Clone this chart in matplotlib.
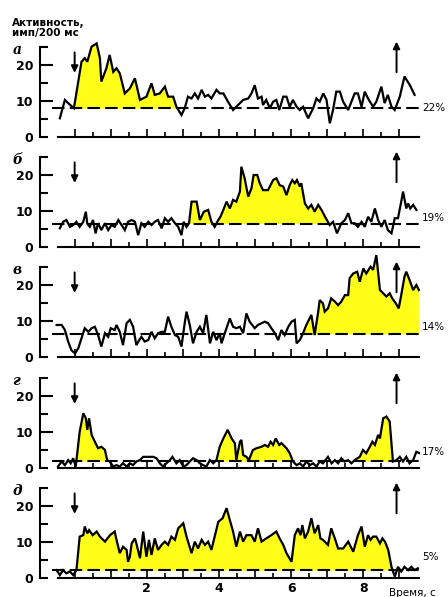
import numpy as np
import matplotlib
matplotlib.use('Agg')
import matplotlib.pyplot as plt

# ----------------------------------
# Data (time in s, activity in imp/200 ms)
# ----------------------------------

t_a = [-0.41, -0.27, -0.18, -0.02, 0.19, 0.28, 0.35, 0.47, 0.61, 0.70, 0.74, 0.88, 0.97, 1.07, 1.16, 1.25,
       1.39, 1.53, 1.67, 1.81, 1.99, 2.13, 2.22, 2.36, 2.50, 2.59, 2.73, 2.82, 2.96, 3.05, 3.14, 3.24,
       3.33, 3.42, 3.52, 3.61, 3.70, 3.79, 3.93, 4.02, 4.12, 4.25, 4.39, 4.53, 4.67, 4.81, 4.90, 4.99,
       5.08, 5.18, 5.22, 5.31, 5.41, 5.50, 5.59, 5.67, 5.78, 5.87, 5.96, 6.05, 6.15, 6.24, 6.33, 6.47,
       6.61, 6.70, 6.79, 6.89, 6.98, 7.07, 7.16, 7.25, 7.35, 7.44, 7.58, 7.67, 7.76, 7.85, 7.95, 8.04,
       8.13, 8.27, 8.36, 8.50, 8.59, 8.68, 8.78, 8.87, 9.01, 9.14, 9.29, 9.42]
v_a = [5.2, 10.3, 9.4, 8.0, 20.9, 21.9, 20.9, 25.1, 26.0, 21.9, 15.4, 19.1, 22.8, 18.1, 19.1, 17.7,
       12.1, 13.5, 16.3, 10.3, 11.2, 14.9, 11.7, 12.1, 14.0, 11.2, 11.2, 8.4, 6.1, 8.0, 11.2, 10.7,
       12.1, 10.7, 13.1, 11.2, 11.7, 10.7, 13.1, 12.1, 12.1, 9.8, 7.5, 8.9, 10.3, 10.7, 12.1, 14.4,
       10.7, 11.2, 8.9, 10.3, 8.0, 9.8, 10.3, 7.5, 11.2, 11.2, 8.4, 10.3, 8.4, 7.5, 8.4, 5.2,
       8.0, 10.7, 9.8, 12.1, 10.3, 3.8, 7.5, 12.6, 12.6, 9.8, 7.5, 9.8, 12.1, 12.1, 8.4, 12.6,
       10.7, 8.4, 9.8, 14.0, 9.4, 11.7, 8.4, 7.5, 11.2, 16.8, 14.4, 11.7]

t_b = [-0.41, -0.32, -0.23, -0.13, -0.04, 0.05, 0.14, 0.24, 0.31, 0.35, 0.42, 0.51, 0.58, 0.65, 0.74, 0.84,
       0.93, 1.02, 1.11, 1.21, 1.30, 1.39, 1.48, 1.58, 1.67, 1.76, 1.85, 1.94, 2.04, 2.13, 2.22, 2.31,
       2.41, 2.50, 2.59, 2.68, 2.78, 2.87, 2.96, 3.02, 3.10, 3.17, 3.24, 3.38, 3.47, 3.58, 3.70, 3.79,
       3.88, 3.98, 4.04, 4.12, 4.21, 4.30, 4.39, 4.48, 4.58, 4.62, 4.71, 4.81, 4.90, 4.96, 5.06, 5.13,
       5.22, 5.36, 5.50, 5.59, 5.68, 5.78, 5.87, 5.96, 6.03, 6.10, 6.16, 6.24, 6.28, 6.38, 6.47, 6.56,
       6.65, 6.75, 6.84, 6.96, 7.07, 7.16, 7.27, 7.39, 7.49, 7.58, 7.67, 7.76, 7.85, 7.95, 8.04, 8.13,
       8.22, 8.32, 8.41, 8.50, 8.59, 8.68, 8.78, 8.87, 8.96, 9.05, 9.10, 9.19, 9.24, 9.30, 9.38, 9.47]
v_b = [5.2, 7.0, 7.5, 5.6, 6.1, 7.0, 5.6, 7.0, 9.8, 6.5, 5.6, 7.5, 3.8, 6.6, 4.7, 6.6,
       4.7, 6.1, 5.6, 7.5, 6.1, 4.7, 7.0, 7.5, 7.0, 3.3, 6.6, 5.6, 7.0, 6.1, 7.0, 7.5,
       5.2, 8.0, 7.0, 8.0, 6.6, 5.6, 3.3, 7.0, 5.6, 6.6, 12.6, 12.6, 7.5, 9.8, 10.3, 7.0,
       5.6, 7.5, 8.4, 10.3, 12.6, 10.7, 13.1, 12.6, 15.4, 22.3, 19.1, 14.0, 16.3, 20.0, 20.0, 17.7,
       15.8, 15.8, 18.6, 19.1, 17.2, 16.8, 14.4, 17.2, 18.6, 17.7, 18.6, 16.8, 17.7, 12.1, 10.7, 11.7,
       9.8, 11.7, 10.3, 8.0, 6.1, 7.0, 3.8, 6.6, 7.5, 9.4, 6.6, 6.6, 5.6, 7.0, 5.6, 8.4,
       7.0, 10.7, 7.5, 5.6, 7.5, 4.7, 3.8, 8.0, 8.0, 12.6, 15.4, 10.7, 12.1, 10.7, 11.7, 10.3]

t_c = [-0.50, -0.36, -0.27, -0.18, -0.09, 0.01, 0.10, 0.19, 0.28, 0.38, 0.47, 0.56, 0.65, 0.74, 0.84, 0.93,
       1.00, 1.11, 1.16, 1.25, 1.34, 1.44, 1.53, 1.62, 1.71, 1.79, 1.85, 1.94, 2.04, 2.13, 2.22, 2.31,
       2.41, 2.50, 2.59, 2.68, 2.78, 2.87, 2.96, 3.05, 3.10, 3.19, 3.28, 3.38, 3.47, 3.56, 3.65, 3.75,
       3.84, 3.93, 4.02, 4.07, 4.16, 4.30, 4.39, 4.48, 4.58, 4.67, 4.76, 4.85, 4.99, 5.08, 5.18, 5.27,
       5.36, 5.45, 5.55, 5.64, 5.73, 5.82, 5.92, 6.01, 6.10, 6.15, 6.24, 6.33, 6.42, 6.56, 6.65, 6.75,
       6.79, 6.88, 6.93, 7.02, 7.11, 7.21, 7.30, 7.39, 7.49, 7.58, 7.62, 7.72, 7.83, 7.90, 8.00, 8.08,
       8.20, 8.27, 8.36, 8.46, 8.55, 8.64, 8.73, 8.80, 8.90, 8.98, 9.05, 9.14, 9.19, 9.28, 9.38, 9.47, 9.54]
v_c = [8.9, 8.9, 7.5, 4.3, 1.9, 1.0, 2.4, 5.2, 8.0, 7.0, 8.0, 8.4, 6.1, 2.9, 6.6, 5.6,
       8.0, 7.5, 8.9, 7.0, 3.3, 9.4, 10.3, 8.4, 3.3, 4.7, 5.6, 4.3, 4.7, 7.0, 5.2, 6.6,
       7.0, 7.0, 11.2, 8.4, 6.1, 5.6, 2.9, 9.4, 12.6, 8.9, 3.8, 7.0, 8.4, 6.6, 11.7, 3.8,
       7.0, 4.7, 6.6, 3.8, 6.6, 10.7, 8.4, 8.0, 8.4, 6.6, 12.1, 9.8, 8.0, 8.9, 9.4, 9.8,
       9.4, 8.0, 6.6, 4.7, 7.5, 6.1, 8.4, 9.8, 10.3, 3.8, 4.7, 6.6, 8.9, 11.7, 6.1, 12.6,
       15.8, 14.9, 12.6, 13.5, 16.3, 15.4, 14.4, 15.4, 17.2, 17.2, 21.9, 23.2, 23.7, 20.9, 24.6, 23.2,
       25.1, 24.2, 28.3, 18.6, 17.7, 16.8, 17.7, 16.3, 14.9, 13.5, 17.2, 22.3, 23.7, 21.4, 18.6, 20.0, 18.6]

t_d = [-0.46, -0.36, -0.27, -0.18, -0.11, -0.04, 0.03, 0.14, 0.24, 0.31, 0.35, 0.40, 0.47, 0.56, 0.65, 0.74,
       0.84, 0.90, 0.97, 1.07, 1.16, 1.25, 1.34, 1.44, 1.53, 1.62, 1.71, 1.81, 1.90, 2.04, 2.18, 2.27,
       2.36, 2.45, 2.54, 2.64, 2.71, 2.82, 2.91, 3.01, 3.10, 3.19, 3.28, 3.38, 3.47, 3.56, 3.65, 3.75,
       3.84, 3.93, 4.02, 4.12, 4.24, 4.35, 4.44, 4.48, 4.58, 4.62, 4.67, 4.76, 4.83, 4.94, 5.04, 5.18,
       5.27, 5.36, 5.43, 5.50, 5.57, 5.67, 5.73, 5.87, 5.96, 6.05, 6.15, 6.24, 6.33, 6.42, 6.52, 6.61,
       6.70, 6.79, 6.88, 7.02, 7.12, 7.21, 7.30, 7.39, 7.48, 7.58, 7.67, 7.76, 7.90, 7.99, 8.08, 8.18,
       8.25, 8.32, 8.41, 8.46, 8.55, 8.64, 8.73, 8.82, 8.92, 9.01, 9.10, 9.19, 9.28, 9.38, 9.47, 9.56]
v_d = [0.4, 1.8, 0.8, 2.2, 1.3, 2.7, 0.4, 10.1, 15.2, 13.8, 10.6, 13.8, 9.2, 7.3, 5.5, 5.9,
       5.0, 2.2, 1.8, 0.4, 0.8, 0.4, 1.3, 0.4, 1.3, 0.8, 1.8, 2.2, 3.1, 3.1, 3.1, 2.7,
       1.3, 0.4, 1.3, 2.2, 3.1, 1.3, 2.2, 0.4, 0.8, 1.8, 2.7, 2.2, 1.3, 0.8, 0.4, 2.2,
       1.3, 2.2, 5.9, 8.2, 10.6, 8.2, 6.9, 2.2, 7.3, 7.8, 3.6, 3.1, 2.2, 5.0, 5.5, 5.9,
       6.4, 5.9, 7.3, 6.4, 8.2, 6.4, 6.9, 5.5, 4.1, 1.8, 0.8, 1.3, 0.4, 1.8, 0.8, 1.3,
       0.4, 1.8, 1.3, 3.1, 1.3, 2.2, 1.3, 2.7, 1.8, 2.2, 1.3, 2.2, 3.1, 5.0, 4.1, 5.9,
       7.3, 6.4, 9.2, 8.2, 13.8, 14.3, 12.9, 1.8, 2.2, 3.1, 1.8, 3.1, 1.3, 2.2, 4.5, 4.1]

t_e = [-0.50, -0.41, -0.32, -0.23, -0.13, -0.04, 0.05, 0.14, 0.24, 0.28, 0.35, 0.40, 0.50, 0.61, 0.70, 0.84,
       0.98, 1.11, 1.16, 1.25, 1.34, 1.44, 1.48, 1.53, 1.58, 1.67, 1.71, 1.81, 1.90, 1.99, 2.06, 2.13,
       2.22, 2.31, 2.41, 2.50, 2.59, 2.68, 2.78, 2.87, 3.01, 3.10, 3.24, 3.33, 3.42, 3.52, 3.61, 3.70,
       3.79, 3.88, 3.98, 4.10, 4.21, 4.30, 4.39, 4.48, 4.58, 4.67, 4.76, 4.90, 4.99, 5.08, 5.18, 5.31,
       5.45, 5.59, 5.68, 5.78, 5.87, 6.01, 6.10, 6.19, 6.26, 6.31, 6.38, 6.47, 6.56, 6.65, 6.75, 6.81,
       6.88, 7.02, 7.11, 7.21, 7.30, 7.44, 7.58, 7.72, 7.85, 7.95, 8.04, 8.13, 8.20, 8.27, 8.36, 8.46,
       8.53, 8.60, 8.69, 8.78, 8.87, 8.96, 9.05, 9.14, 9.24, 9.33, 9.42, 9.51]
v_e = [2.2, 0.8, 2.2, 1.3, 1.8, 0.8, 2.2, 11.5, 11.9, 14.3, 12.4, 13.3, 11.9, 12.9, 11.5, 10.1,
       11.9, 12.9, 10.6, 6.9, 8.7, 7.8, 4.5, 5.9, 9.6, 11.0, 9.6, 5.5, 12.9, 5.9, 10.6, 6.4,
       11.0, 7.8, 9.2, 10.1, 9.2, 11.5, 10.6, 13.8, 15.2, 11.5, 6.9, 10.1, 8.2, 10.6, 9.2, 10.1,
       7.8, 11.5, 15.6, 16.6, 19.4, 16.1, 12.9, 8.7, 12.9, 10.1, 11.9, 11.9, 10.1, 13.8, 10.1, 11.0,
       11.9, 12.9, 11.0, 9.2, 6.9, 4.5, 11.9, 13.8, 11.9, 14.7, 11.0, 12.9, 16.6, 12.4, 14.7, 11.0,
       10.6, 9.2, 13.8, 11.0, 8.2, 8.2, 10.1, 7.3, 11.9, 14.3, 8.7, 11.9, 10.6, 11.5, 11.5, 9.6,
       11.0, 10.1, 7.8, 3.1, 0.4, 3.1, 1.8, 3.1, 2.2, 3.1, 2.2, 2.7]

times = [t_a, t_b, t_c, t_d, t_e]
values = [v_a, v_b, v_c, v_d, v_e]
baselines = [8.0, 6.4, 6.3, 1.9, 2.2]
percents = ['22%', '19%', '14%', '17%', '5%']
letters = ['а', 'б', 'в', 'г', 'д']
# response periods that are shaded yellow
fill_spans = [[(0.0, 2.85)],
              [(3.15, 7.05)],
              [(6.3, 9.6)],
              [(0.0, 1.0), (4.0, 6.05), (7.9, 8.82)],
              [(0.0, 8.85)]]
stim_on = 0.0
stim_off = 8.92

# ----------------------------------
# Layout (pixels of the 448x597 picture)
# ----------------------------------

W, H = 448, 597
px_per_unit = 3.6
zero_rows = [137, 247, 357, 468, 578]
ylo, yhi = -1.5, 29
label_offsets = [0.0, 1.6, 2.0, 2.5, 3.6]
yellow = '#ffff1a'

fig = plt.figure(figsize=(W / 100, H / 100), dpi=100)

for i in range(5):
    t = np.array(times[i])
    v = np.array(values[i])
    base = baselines[i]

    bottom_px = zero_rows[i] - ylo * px_per_unit
    height_px = (yhi - ylo) * px_per_unit
    ax = fig.add_axes([40 / W, 1 - bottom_px / H, 380 / W, height_px / H])
    ax.set_xlim(-0.96, 9.57)
    ax.set_ylim(ylo, yhi)
    ax.patch.set_alpha(0)

    # yellow response areas
    for a, b in fill_spans[i]:
        mask = (t >= a) & (t <= b)
        ax.fill_between(t, v, base, where=mask & (v >= base), interpolate=True,
                        color=yellow, lw=0, zorder=1)

    ax.plot([-0.63, 9.6], [base, base], color='black', lw=1.5, dashes=(6, 2.5), zorder=2)
    ax.plot(t, v, color='black', lw=1.6, zorder=3, solid_joinstyle='miter')

    # stimulus on / off arrows
    ax.annotate('', xy=(stim_on, 17.8), xytext=(stim_on, 23.5),
                arrowprops=dict(arrowstyle='-|>', color='black', lw=1.4, mutation_scale=10,
                                shrinkA=0, shrinkB=0), annotation_clip=False)
    ax.annotate('', xy=(stim_off, 26.5), xytext=(stim_off, 18.0),
                arrowprops=dict(arrowstyle='-|>', color='black', lw=1.4, mutation_scale=10,
                                shrinkA=0, shrinkB=0), annotation_clip=False)

    # axes frame
    for s in ['top', 'right']:
        ax.spines[s].set_visible(False)
    ax.spines['left'].set_bounds(0, 25)
    ax.spines['left'].set_linewidth(1.5)
    ax.spines['bottom'].set_position(('data', 0))
    ax.spines['bottom'].set_bounds(-0.47, 9.53)
    ax.spines['bottom'].set_linewidth(1.5)

    ax.set_yticks([10, 20], labels=['10', '20'])
    ax.set_yticks([0, 5, 15, 25], labels=['0', '', '', ''], minor=True)
    ax.tick_params(axis='y', which='both', direction='in', width=1.5, pad=5,
                   labelsize=9)
    ax.tick_params(axis='y', which='major', length=9)
    ax.tick_params(axis='y', which='minor', length=6)
    for lab in ax.get_yticklabels(which='both'):
        lab.set_fontweight('bold')

    major_x = np.arange(0, 9.01, 1)
    minor_x = np.arange(0.5, 9.0, 1)
    if i == 4:
        xlabels = [str(int(m)) if m in (2, 4, 6, 8) else '' for m in major_x]
    else:
        xlabels = [''] * len(major_x)
    ax.set_xticks(major_x, labels=xlabels)
    ax.set_xticks(minor_x, minor=True)
    ax.tick_params(axis='x', which='both', direction='in', width=1.2, labelsize=9, pad=3)
    ax.tick_params(axis='x', which='major', length=6)
    ax.tick_params(axis='x', which='minor', length=3.5)
    for lab in ax.get_xticklabels():
        lab.set_fontweight('bold')

    ax.text(9.62, base + label_offsets[i], percents[i], fontsize=7.5, ha='left', va='center',
            clip_on=False)
    ax.text(-1.72, 24.3, letters[i], fontsize=10, fontweight='bold', fontstyle='italic',
            family='DejaVu Serif', ha='left', va='center', clip_on=False)

    if i == 4:
        ax.text(9.35, -4.2, 'Время, с', fontsize=7.5, ha='center', va='center', clip_on=False)

fig.text(12 / W, 1 - 28 / H, 'Активность,\nимп/200 мс', fontsize=7.5, fontweight='bold',
         ha='left', va='center', linespacing=1.05)

fig.savefig('out.png', dpi=100)
